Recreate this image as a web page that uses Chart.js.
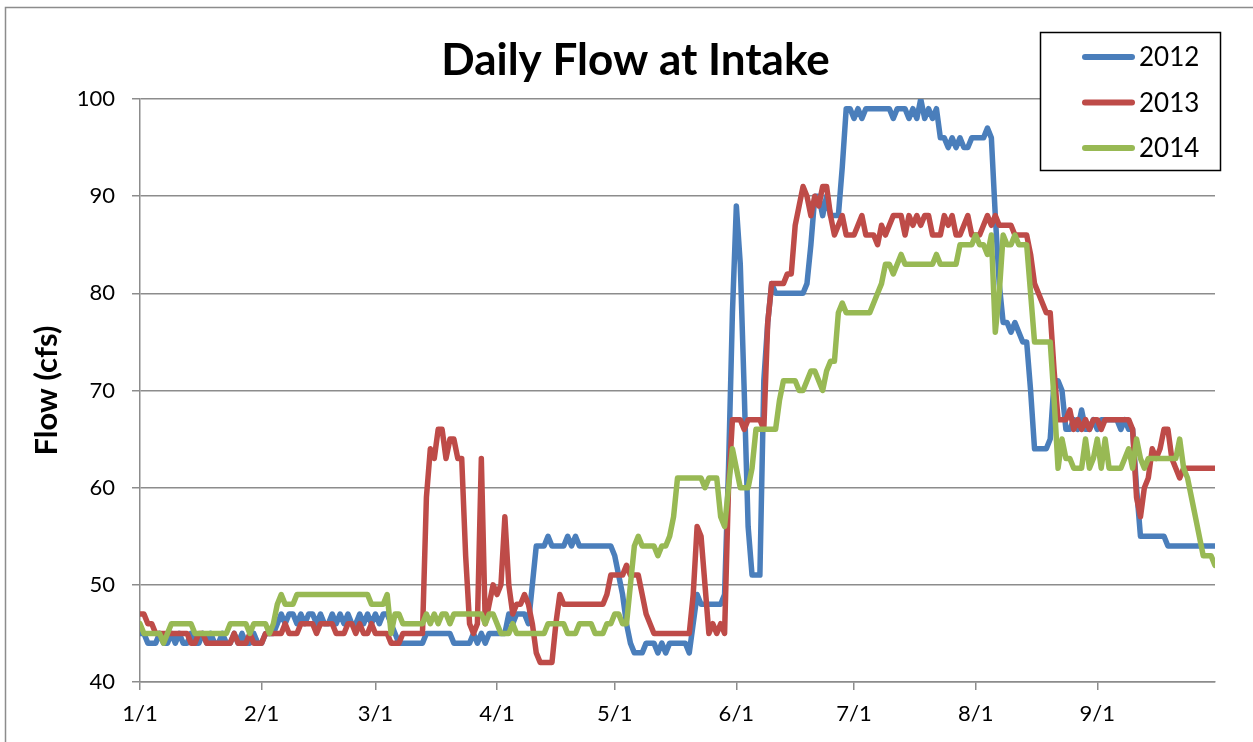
<!DOCTYPE html>
<html>
<head>
<meta charset="utf-8">
<title>Daily Flow at Intake</title>
<script src="https://cdn.jsdelivr.net/npm/chart.js@4/dist/chart.umd.min.js"></script>
<style>
  html, body { margin: 0; padding: 0; background: #fff; }
  #wrap { position: relative; width: 1253px; height: 742px; }
</style>
</head>
<body>
<div id="wrap"><canvas id="flowChart"></canvas></div>
<script>
// daily flow (cfs), 1/1 .. 10/1, one value per day
const flow2012 = [
  45,45,44,44,44,45,44,44,45,44, 45,44,44,45,44,44,45,44,45,44, 44,45,44,44,45,44,45,44,44,45, 44,
  44,45,45,45,46,47,46,47,47,46, 47,46,47,47,46,47,46,46,47,46, 47,46,47,46,46,47,46,47,46,
  47,46,47,47,46,45,44,44,44,44, 44,44,44,45,45,45,45,45,45,45, 44,44,44,44,44,45,44,45,44,45, 45,
  45,45,45,47,46,47,47,47,46,50, 54,54,54,55,54,54,54,54,55,54, 55,54,54,54,54,54,54,54,54,54,
  53,51,49,46,44,43,43,43,44,44, 44,43,44,43,44,44,44,44,44,43, 46,49,48,48,48,48,48,48,49,62, 78,
  89,83,70,56,51,51,51,71,77,81, 80,80,80,80,80,80,80,80,81,85, 90,90,88,90,88,88,88,93,99,99,
  98,99,98,99,99,99,99,99,99,99, 98,99,99,99,98,99,98,100,98,99, 98,99,96,96,95,96,95,96,95,95, 96,
  96,96,96,97,96,88,81,77,77,76, 77,76,75,75,70,64,64,64,64,65, 71,71,70,66,66,67,66,68,66,66, 67,
  66,67,67,67,67,67,66,67,66,66, 60,55,55,55,55,55,55,55,54,54, 54,54,54,54,54,54,54,54,54,54, 54
];
const flow2013 = [
  47,47,46,46,45,45,45,45,45,45, 45,45,45,44,44,45,45,44,44,44, 44,44,44,44,45,44,44,44,45,44, 44,
  44,45,45,45,45,45,46,45,45,45, 46,46,46,46,45,46,46,46,46,45, 45,45,46,46,45,46,45,45,46,
  45,45,45,45,44,44,44,45,45,45, 45,45,45,59,64,63,66,66,63,65, 65,63,63,53,46,45,46,63,46,48, 50,
  49,50,57,50,47,48,48,49,48,46, 43,42,42,42,42,46,49,48,48,48, 48,48,48,48,48,48,48,48,49,51,
  51,51,51,52,51,51,51,49,47,46, 45,45,45,45,45,45,45,45,45,45, 49,56,55,50,45,46,45,46,45,60, 67,
  67,67,66,67,67,67,67,66,77,81, 81,81,81,82,82,87,89,91,90,88, 90,89,91,91,88,86,87,88,86,86,
  86,87,88,86,86,86,85,87,86,87, 88,88,88,86,88,87,88,87,88,88, 86,86,86,88,87,88,86,86,87,88, 86,
  86,86,87,88,87,88,87,87,87,87, 86,86,86,86,84,81,80,79,78,78, 72,67,67,67,68,66,67,66,67,66, 67,
  67,66,67,67,67,67,67,67,67,66, 59,57,60,61,64,63,64,66,66,63, 62,61,62,62,62,62,62,62,62,62, 62
];
const flow2014 = [
  46,45,45,45,45,45,44,45,46,46, 46,46,46,46,45,45,45,45,45,45, 45,45,45,46,46,46,46,46,45,46, 46,
  46,46,45,46,48,49,48,48,48,49, 49,49,49,49,49,49,49,49,49,49, 49,49,49,49,49,49,49,49,48,
  48,48,48,49,45,47,47,46,46,46, 46,46,46,47,46,47,46,47,47,46, 47,47,47,47,47,47,47,47,46,47, 47,
  46,45,45,45,46,45,45,45,45,45, 45,45,45,46,46,46,46,46,45,45, 45,46,46,46,46,45,45,45,46,46,
  47,47,46,46,50,54,55,54,54,54, 54,53,54,54,55,57,61,61,61,61, 61,61,61,60,61,61,61,57,56,60, 64,
  62,60,60,60,62,66,66,66,66,66, 66,69,71,71,71,71,70,70,71,72, 72,71,70,72,73,73,78,79,78,78,
  78,78,78,78,78,79,80,81,83,83, 82,83,84,83,83,83,83,83,83,83, 83,84,83,83,83,83,83,85,85,85, 85,
  86,85,85,84,86,76,80,86,85,85, 86,85,85,85,80,75,75,75,75,75, 69,62,65,63,63,62,62,62,65,62, 63,
  65,62,65,62,62,62,62,63,64,62, 65,63,62,63,63,63,63,63,63,63, 63,65,62,61,59,57,55,53,53,53, 52
];

const seriesNames = ['2012', '2013', '2014'];
const seriesColors = ['#4a7ebb', '#be4b48', '#98b954'];
const tickDays = [0, 31, 60, 91, 121, 152, 182, 213, 244];
const tickLabels = ['1/1', '2/1', '3/1', '4/1', '5/1', '6/1', '7/1', '8/1', '9/1'];
const days = flow2012.map((v, i) => i);

const axisGray = '#8c8c8c';

// white page with the thin grey chart frame
const frame = {
  id: 'frame',
  beforeDraw(chart) {
    const ctx = chart.ctx;
    ctx.save();
    ctx.fillStyle = '#fff';
    ctx.fillRect(0, 0, chart.width, chart.height);
    ctx.strokeStyle = '#8c8c8c';
    ctx.lineWidth = 1.5;
    ctx.beginPath();
    ctx.moveTo(5.5, chart.height);
    ctx.lineTo(5.5, 7.5);
    ctx.lineTo(chart.width, 7.5);
    ctx.stroke();
    ctx.restore();
  },
  // the title in the original sits a bit right of the canvas centre
  afterLayout(chart) {
    if (chart.titleBlock) {
      chart.titleBlock.left += 28;
      chart.titleBlock.right += 28;
    }
  }
};

// boxed legend that sits over the top right of the plot
const boxLegend = {
  id: 'boxLegend',
  afterDraw(chart) {
    const ctx = chart.ctx;
    ctx.save();
    ctx.fillStyle = '#fff';
    ctx.fillRect(1040, 32, 180, 138);
    ctx.strokeStyle = '#000';
    ctx.lineWidth = 1.5;
    ctx.strokeRect(1040.5, 32.5, 180, 138);
    chart.data.datasets.forEach((ds, i) => {
      const y = 57 + i * 45.5;
      ctx.strokeStyle = ds.borderColor;
      ctx.lineWidth = 6;
      ctx.lineCap = 'round';
      ctx.beginPath();
      ctx.moveTo(1085, y);
      ctx.lineTo(1132, y);
      ctx.stroke();
      ctx.fillStyle = '#000';
      ctx.font = '26px Lato';
      ctx.textBaseline = 'middle';
      ctx.fillText(ds.label, 1139, y + 1);
    });
    ctx.restore();
  }
};

const datasets = [flow2012, flow2013, flow2014].map((vals, i) => ({
  label: seriesNames[i],
  data: vals,
  borderColor: seriesColors[i],
  backgroundColor: seriesColors[i],
  borderWidth: 5.5,
  pointRadius: 0,
  tension: 0,
  borderJoinStyle: 'round',
  borderCapStyle: 'round',
  order: 2 - i
}));

new Chart(document.getElementById('flowChart'), {
  type: 'line',
  data: { labels: days, datasets: datasets },
  plugins: [frame, boxLegend],
  options: {
    responsive: true,
    maintainAspectRatio: false,
    animation: false,
    layout: { padding: { left: 0, right: 38, top: 0, bottom: 0 } },
    plugins: {
      legend: { display: false },
      tooltip: { enabled: false },
      title: {
        display: true,
        text: 'Daily Flow at Intake',
        color: '#000',
        font: { family: 'Lato', size: 44, weight: 'bold' },
        padding: { top: 34, bottom: 12.2 }
      }
    },
    scales: {
      x: {
        type: 'linear',
        min: 0,
        max: days.length - 1,
        afterBuildTicks: (scale) => { scale.ticks = tickDays.map(v => ({ value: v })); },
        afterFit: (scale) => { scale.height = 60; },
        ticks: {
          autoSkip: false,
          maxRotation: 0,
          padding: 11,
          color: '#000',
          font: { family: 'Lato', size: 22 },
          callback: (v) => tickLabels[tickDays.indexOf(v)]
        },
        grid: { drawOnChartArea: false, drawTicks: true, tickLength: 8, tickColor: axisGray, lineWidth: 1.5 },
        border: { display: true, color: axisGray, width: 1.5 }
      },
      y: {
        min: 40,
        max: 100,
        afterFit: (scale) => { scale.width = 140; },
        ticks: {
          stepSize: 10,
          padding: 17,
          color: '#000',
          font: { family: 'Lato', size: 22 }
        },
        title: {
          display: true,
          text: 'Flow (cfs)',
          color: '#000',
          font: { family: 'Lato', size: 31, weight: 'bold' },
          padding: { top: 28.4, bottom: 0 }
        },
        grid: { color: axisGray, lineWidth: 1.5, tickLength: 8, tickColor: axisGray },
        border: { display: true, color: axisGray, width: 1.5 }
      }
    }
  }
});
</script>
</body>
</html>
